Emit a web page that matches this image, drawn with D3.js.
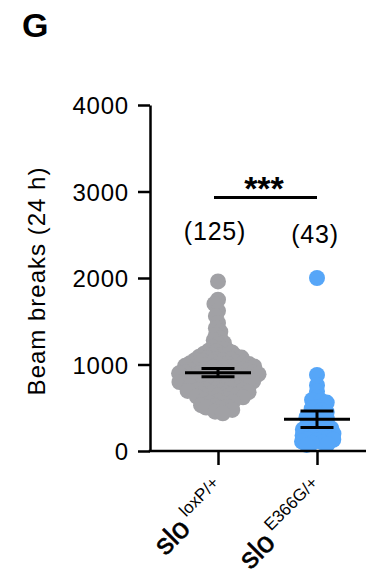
<!DOCTYPE html>
<html>
<head>
<meta charset="utf-8">
<script src="https://cdn.jsdelivr.net/npm/d3@7"></script>
<style>
  body { margin: 0; background: #fff; }
  svg { display: block; }
  text { font-family: "Liberation Sans", Arial, sans-serif; fill: #000; }
</style>
</head>
<body>
<svg id="chart" width="369" height="577"></svg>
<script>
// Genotypes on the x axis (gene name + allele superscript)
const geneName = "slo";
const genotypes = ["loxP/+", "E366G/+"];
const groupCounts = ["(125)", "(43)"];
const yTicks = [0, 1000, 2000, 3000, 4000];
const groupColors = ["#a1a1a5", "#56a6f8"];

// Beam breaks per fly over 24 h
const controlBreaks = [
  1960, 1750, 1700, 1620, 1560, 1480, 1420, 1380, 1340, 1300, 1280, 1250, 1230, 1200, 1180,
  1170, 1160, 1150, 1140, 1125, 1110, 1105, 1100,
  1095, 1090, 1080, 1075, 1065, 1060, 1050, 1045, 1040, 1030, 1025, 1020, 1015, 1010, 1005, 1000,
  995, 990, 985, 978, 972, 965, 960, 955, 948, 942, 935, 930, 925, 918, 914, 910, 906, 903, 920, 945,
  898, 892, 888, 880, 876, 870, 865, 860, 855, 850, 846, 840, 835, 830, 826, 820, 815, 810, 805, 802,
  798, 790, 785, 778, 770, 765, 760, 752, 745, 740, 735, 728, 720, 715, 710, 705, 702, 780,
  695, 688, 680, 672, 665, 658, 650, 642, 635, 628, 620, 612, 605, 660,
  595, 585, 575, 565, 552, 545, 530, 520, 510, 502,
  490, 475, 455, 435
];
const mutantBreaks = [
  2000, 880, 760, 690, 620, 590, 580, 560, 510, 490,
  470, 450, 430, 420, 400, 390, 370, 350, 330, 310,
  300, 290, 280, 260, 250, 240, 230, 220, 210, 200,
  190, 180, 170, 160, 150, 140, 130, 120, 110, 100,
  90, 80, 70
];
const seriesValues = [controlBreaks, mutantBreaks];

const svg = d3.select("#chart");
const axisLeftX = 150, axisRightX = 366;
const y = d3.scaleLinear().domain([0, 4000]).range([451, 105]);
const x = d3.scalePoint().domain(genotypes).range([218, 317]);

const dotR = 8;
const swarmGap = 5.6;

// Deterministic beeswarm: each point takes the offset nearest the centre
// that keeps it at least swarmGap away from points already placed.
function swarm(values) {
  const pts = values.map(v => ({ v, py: y(v) })).sort((a, b) => a.py - b.py);
  const placed = [];
  for (const p of pts) {
    const blocked = [];
    for (const q of placed) {
      const dy = Math.abs(q.py - p.py);
      if (dy < swarmGap) {
        const dx = Math.sqrt(swarmGap * swarmGap - dy * dy);
        blocked.push([q.dx - dx, q.dx + dx]);
      }
    }
    const cands = [0];
    blocked.forEach(([a, b]) => cands.push(a, b));
    cands.sort((a, b) => Math.abs(a) - Math.abs(b));
    for (const c of cands) {
      if (blocked.every(([a, b]) => c <= a + 1e-6 || c >= b - 1e-6)) { p.dx = c; break; }
    }
    placed.push(p);
  }
  return pts;
}

// Dots
genotypes.forEach((g, i) => {
  const pts = swarm(seriesValues[i]);
  svg.append("g").selectAll("circle").data(pts).join("circle")
    .attr("cx", d => x(g) + d.dx)
    .attr("cy", d => d.py)
    .attr("r", dotR)
    .attr("fill", groupColors[i]);
});

// Mean with 95% confidence interval
genotypes.forEach((g, i) => {
  const vals = seriesValues[i];
  const m = d3.mean(vals);
  const ci = 1.96 * d3.deviation(vals) / Math.sqrt(vals.length);
  const cx = x(g);
  const gg = svg.append("g").attr("stroke", "#000").attr("stroke-width", 3);
  gg.append("line").attr("x1", cx - 33).attr("x2", cx + 33).attr("y1", y(m)).attr("y2", y(m));
  gg.append("line").attr("x1", cx - 16.5).attr("x2", cx + 16.5).attr("y1", y(m + ci)).attr("y2", y(m + ci));
  gg.append("line").attr("x1", cx - 16.5).attr("x2", cx + 16.5).attr("y1", y(m - ci)).attr("y2", y(m - ci));
  gg.append("line").attr("x1", cx).attr("x2", cx).attr("y1", y(m + ci)).attr("y2", y(m - ci));
});

// Y axis
const yAxis = svg.append("g")
  .attr("transform", `translate(${axisLeftX},0)`)
  .call(d3.axisLeft(y).tickValues(yTicks).tickFormat(d3.format("d")).tickSize(12).tickPadding(9).tickSizeOuter(0));
yAxis.select(".domain").attr("stroke", "#000").attr("stroke-width", 2.5);
yAxis.selectAll(".tick line").attr("stroke", "#000").attr("stroke-width", 2.5);
yAxis.selectAll(".tick text")
  .style("font-family", '"Liberation Sans", Arial, sans-serif')
  .style("font-size", "24px").style("letter-spacing", "0.8px")
  .attr("fill", "#000").attr("dy", "0.36em");

// X axis
const xAxis = svg.append("g")
  .attr("transform", `translate(0,${y(0)})`)
  .call(d3.axisBottom(x).tickSize(14).tickFormat(""));
xAxis.select(".domain").remove();
xAxis.selectAll(".tick line").attr("stroke", "#000").attr("stroke-width", 2.5);
svg.append("line")
  .attr("x1", axisLeftX - 1.25).attr("x2", axisRightX)
  .attr("y1", y(0)).attr("y2", y(0))
  .attr("stroke", "#000").attr("stroke-width", 2.5);

// Rotated genotype labels
genotypes.forEach(g => {
  const t = svg.append("text")
    .attr("transform", `translate(${x(g) + 11},${y(0) + 42}) rotate(-45)`)
    .attr("text-anchor", "end");
  t.append("tspan").text(geneName)
    .style("font-size", "29px").attr("stroke", "#000").attr("stroke-width", 0.6);
  t.append("tspan").text(g).attr("dx", 5).attr("dy", -13).style("font-size", "17px");
});

// Y axis title
svg.append("text")
  .attr("transform", `translate(45,${(y(0) + y(4000)) / 2 + 3}) rotate(-90)`)
  .attr("text-anchor", "middle")
  .style("font-size", "24px").style("letter-spacing", "1px")
  .text("Beam breaks (24 h)");

// Group sizes
genotypes.forEach((g, i) => {
  svg.append("text")
    .attr("x", x(g) + (i === 0 ? -3 : -2))
    .attr("y", 240 + i * 3)
    .attr("text-anchor", "middle")
    .style("font-size", "25px").style("letter-spacing", "0.8px")
    .text(groupCounts[i]);
});

// Significance bar
svg.append("line")
  .attr("x1", 214).attr("x2", 317).attr("y1", 197.5).attr("y2", 197.5)
  .attr("stroke", "#000").attr("stroke-width", 3.2);
svg.append("text")
  .attr("x", 264).attr("y", 200)
  .attr("text-anchor", "middle")
  .style("font-size", "34px").style("font-weight", "bold")
  .text("***");

// Panel letter
svg.append("text")
  .attr("x", 22).attr("y", 37)
  .style("font-size", "34px").style("font-weight", "bold")
  .text("G");
</script>
</body>
</html>
